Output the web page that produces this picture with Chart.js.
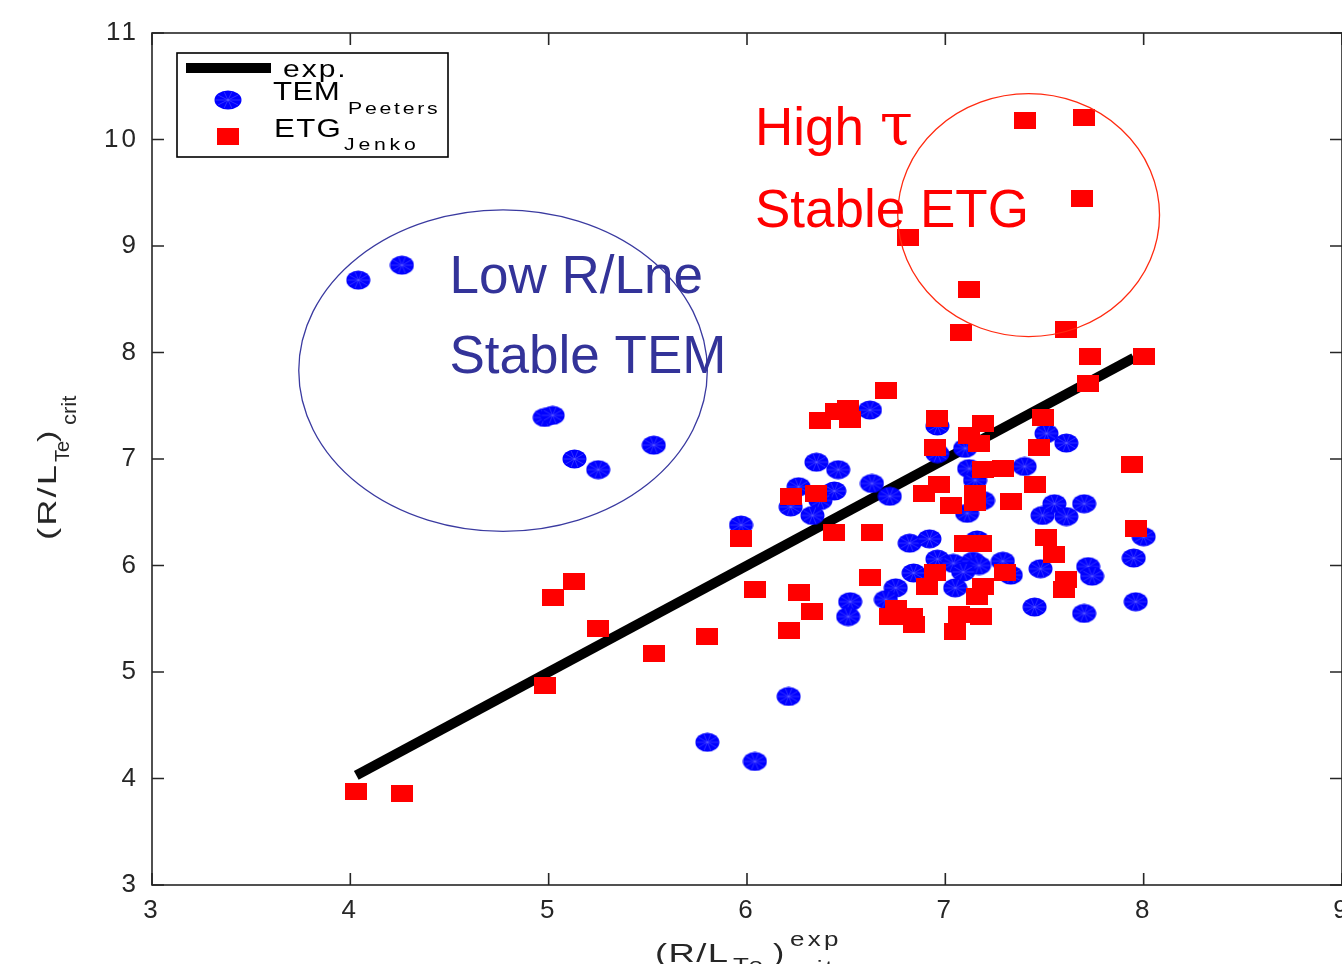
<!DOCTYPE html>
<html><head><meta charset="utf-8">
<script src="https://cdn.jsdelivr.net/npm/chart.js@4.4.0/dist/chart.umd.min.js"></script>
<style>
html,body{margin:0;padding:0;overflow:hidden;background:#fff;width:1342px;height:964px;}
#wrap{position:absolute;left:0;top:0;width:1362px;height:964px;}
</style></head><body>
<div id="wrap"><canvas id="c"></canvas></div>
<script>
// ---------- data ----------
const xTicks = [3, 4, 5, 6, 7, 8, 9];
const yTicks = [3, 4, 5, 6, 7, 8, 9, 10, 11];

const temX = [4.04,4.26,4.98,5.02,5.13,5.25,5.53,5.80,6.04,6.21,5.97,6.62,6.35,6.46,6.26,6.44,6.37,6.22,6.33,6.63,
              6.72,6.96,6.96,6.82,6.92,6.96,6.84,6.75,6.70,6.52,6.51,7.10,7.12,7.15,7.19,7.11,7.40,7.51,7.61,7.49,
              7.55,7.61,7.70,7.16,7.04,7.14,7.17,7.29,7.33,7.09,7.05,7.48,7.72,7.74,7.45,7.70,8.00,7.95,7.96];
const temY = [8.68,8.82,7.39,7.41,7.00,6.90,7.13,4.34,4.16,4.77,6.38,7.46,6.97,6.90,6.74,6.70,6.61,6.55,6.47,6.77,
              6.65,7.31,7.05,6.21,6.25,6.06,5.93,5.79,5.68,5.66,5.52,7.10,6.91,6.80,6.61,6.49,6.93,7.24,7.15,6.47,
              6.58,6.46,6.58,6.24,6.02,6.04,6.00,6.04,5.91,5.94,5.79,5.97,5.99,5.90,5.61,5.55,6.27,6.07,5.66];

const etgX = [4.03,4.26,4.98,5.02,5.13,5.25,5.53,5.80,5.97,6.04,6.21,6.26,6.33,6.22,6.35,6.44,6.63,6.62,6.37,6.45,
              6.51,6.52,6.70,6.81,6.96,6.95,6.89,6.97,7.03,7.08,7.12,7.12,7.19,7.17,7.19,7.29,7.15,7.15,7.33,7.45,
              7.49,7.47,7.51,7.55,7.61,7.60,7.40,7.70,7.69,7.61,7.73,8.00,7.72,7.94,7.96,7.10,7.18,6.95,6.91,7.30,
              7.19,7.16,7.07,7.18,7.05,6.75,6.72,6.83,6.84];
const etgY = [3.88,3.86,4.87,5.70,5.85,5.41,5.17,5.33,6.25,5.77,5.39,5.75,5.57,6.65,6.68,6.31,6.31,5.89,7.36,7.45,
              7.47,7.37,7.64,9.08,7.38,7.11,6.68,6.76,6.56,8.19,8.59,7.22,7.33,7.15,6.90,6.91,6.68,6.59,6.60,6.76,
              7.39,7.11,6.26,6.10,5.87,5.77,10.18,10.21,9.45,8.22,7.96,7.96,7.71,6.95,6.35,6.21,6.21,5.93,5.80,5.93,
              5.80,5.71,5.54,5.52,5.38,5.60,5.52,5.52,5.45];

const expX = [4.03, 7.95];
const expY = [4.03, 7.95];

const seriesNames = ['exp.', 'TEM', 'ETG'];
const seriesSubs  = ['', 'Peeters', 'Jenko'];

// annotation texts (data coordinates of baseline start)
const noteTexts = ['High ', 'Stable ETG', 'Low R/Lne', 'Stable TEM'];
const noteX = [6.04, 6.04, 4.50, 4.50];
const noteY = [9.95, 9.18, 8.56, 7.81];
const noteColors = ['#ff0000', '#ff0000', '#333399', '#333399'];
const tauText = '\u03C4';

// ellipses (data coordinates)
const ellCX = [4.77, 7.42];
const ellCY = [7.83, 9.29];
const ellRX = [1.03, 0.66];
const ellRY = [1.51, 1.14];
const ellColors = ['#3a3aa0', '#ff2a10'];

// ---------- styling helpers ----------
const FONT = "'Liberation Sans', Arial, Helvetica, sans-serif";
const AXC = '#262626';

function makeEllipse(w, h) {
  const c = document.createElement('canvas'); c.width = w; c.height = h;
  const g = c.getContext('2d');
  g.fillStyle = '#0000ff';
  g.beginPath(); g.ellipse(w/2, h/2, w/2 - 0.5, h/2 - 0.5, 0, 0, 2*Math.PI); g.fill();
  g.strokeStyle = 'rgba(120,120,255,0.8)'; g.lineWidth = 0.5;
  for (let k = 0; k < 10; k++) {
    const a = k * Math.PI / 5;
    g.beginPath(); g.moveTo(w/2, h/2);
    g.lineTo(w/2 + (w/2 - 1.5)*Math.cos(a), h/2 + (h/2 - 1.5)*Math.sin(a)); g.stroke();
  }
  return c;
}
function makeRect(w, h) {
  const c = document.createElement('canvas'); c.width = w; c.height = h;
  const g = c.getContext('2d');
  g.fillStyle = '#ff0000'; g.fillRect(0, 0, w, h);
  return c;
}
const blueMark = makeEllipse(25, 20);
const redMark = makeRect(22, 17);
const blueLeg = makeEllipse(28, 20);
const redLeg = makeRect(22, 17);

// draw text with horizontal stretch sx and letter spacing ls
function txt(ctx, s, x, y, size, sx, ls, color, family) {
  ctx.save();
  ctx.translate(x, y);
  ctx.scale(sx || 1, 1);
  ctx.font = size + 'px ' + (family || FONT);
  ctx.fillStyle = color || '#000';
  ctx.letterSpacing = (ls || 0) + 'px';
  ctx.textAlign = 'left'; ctx.textBaseline = 'alphabetic';
  ctx.fillText(s, 0, 0);
  const w = ctx.measureText(s).width * (sx || 1);
  ctx.restore();
  return w;
}

const decor = {
  id: 'decor',
  beforeDraw(chart) { chart.ctx.letterSpacing = '3px'; },
  beforeDatasetsDraw(chart) {
    const ctx = chart.ctx, a = chart.chartArea, xs = chart.scales.x, ys = chart.scales.y;
    ctx.save();
    ctx.letterSpacing = '0px';
    ctx.strokeStyle = AXC; ctx.lineWidth = 1.6;
    ctx.strokeRect(a.left, a.top, a.right - a.left, a.bottom - a.top);
    const tl = 12;
    ctx.beginPath();
    xTicks.forEach(v => {
      const p = xs.getPixelForValue(v);
      ctx.moveTo(p, a.bottom); ctx.lineTo(p, a.bottom - tl);
      ctx.moveTo(p, a.top); ctx.lineTo(p, a.top + tl);
    });
    yTicks.forEach(v => {
      const p = ys.getPixelForValue(v);
      ctx.moveTo(a.left, p); ctx.lineTo(a.left + tl, p);
      ctx.moveTo(a.right, p); ctx.lineTo(a.right - tl, p);
    });
    ctx.stroke();
    ctx.restore();
  },
  afterDatasetsDraw(chart) {
    const ctx = chart.ctx, xs = chart.scales.x, ys = chart.scales.y;
    // ellipses
    ctx.save();
    for (let i = 0; i < ellCX.length; i++) {
      const cx = xs.getPixelForValue(ellCX[i]), cy = ys.getPixelForValue(ellCY[i]);
      const rx = Math.abs(xs.getPixelForValue(ellCX[i] + ellRX[i]) - cx);
      const ry = Math.abs(ys.getPixelForValue(ellCY[i] + ellRY[i]) - cy);
      ctx.strokeStyle = ellColors[i]; ctx.lineWidth = 1.3;
      ctx.beginPath(); ctx.ellipse(cx, cy, rx, ry, 0, 0, 2*Math.PI); ctx.stroke();
    }
    ctx.restore();
    // annotation texts
    for (let i = 0; i < noteTexts.length; i++) {
      const x = xs.getPixelForValue(noteX[i]), y = ys.getPixelForValue(noteY[i]);
      const w = txt(ctx, noteTexts[i], x, y, 53, 1, 0, noteColors[i]);
      if (i === 0) txt(ctx, tauText, x + w + 1, y, 60, 1, 0, noteColors[i], "'DejaVu Serif', serif");
    }
    // legend
    ctx.save();
    ctx.letterSpacing = '0px';
    ctx.fillStyle = '#fff'; ctx.fillRect(177, 53, 271, 104);
    ctx.strokeStyle = '#000'; ctx.lineWidth = 1.6; ctx.strokeRect(177, 53, 271, 104);
    ctx.strokeStyle = '#000'; ctx.lineWidth = 10;
    ctx.beginPath(); ctx.moveTo(186, 68); ctx.lineTo(271, 68); ctx.stroke();
    ctx.drawImage(blueLeg, 228 - 14, 100 - 10);
    ctx.drawImage(redLeg, 228 - 11, 136 - 8.5);
    ctx.restore();
    txt(ctx, seriesNames[0], 283, 77, 24, 1.25, 1.6, '#000');
    txt(ctx, seriesNames[1], 273, 100, 26, 1.2, 0.4, '#000');
    txt(ctx, seriesSubs[1], 348, 114, 17, 1.25, 2.2, '#000');
    txt(ctx, seriesNames[2], 274, 137, 26, 1.2, 1.1, '#000');
    txt(ctx, seriesSubs[2], 344, 150, 17, 1.25, 3, '#000');
  },
  afterDraw(chart) {
    const ctx = chart.ctx;
    // x axis title
    txt(ctx, '(R/L', 655, 962, 26, 1.4, 1, AXC);
    txt(ctx, 'Te', 733, 972, 20, 1.3, 2, AXC);
    txt(ctx, ')', 773, 962, 26, 1.3, 0, AXC);
    txt(ctx, 'exp', 790, 946, 20, 1.3, 2.5, AXC);
    txt(ctx, 'crit', 790, 975, 20, 1.3, 2, AXC);
    // y axis title (rotated)
    const parts = [['(R/L', 540, 56, 26, 1.4, 1.5], ['Te', 462, 69, 20, 1.0, 0], [')', 442, 56, 26, 1.3, 0], ['crit', 425, 76, 20, 1.1, 0]];
    parts.forEach(p => {
      ctx.save();
      ctx.translate(p[2], p[1]); ctx.rotate(-Math.PI/2);
      txt(ctx, p[0], 0, 0, p[3], p[4], p[5], AXC);
      ctx.restore();
    });
  }
};

const pts = (xa, ya) => xa.map((v, i) => ({x: v, y: ya[i]}));

new Chart(document.getElementById('c'), {
  type: 'scatter',
  data: {
    datasets: [
      { label: 'ETG Jenko', data: pts(etgX, etgY), pointStyle: redMark, pointRadius: 9, pointHoverRadius: 9 },
      { label: 'TEM Peeters', data: pts(temX, temY), pointStyle: blueMark, pointRadius: 10, pointHoverRadius: 10 },
      { label: 'exp.', data: pts(expX, expY), showLine: true, borderColor: '#000', borderWidth: 10,
        pointRadius: 0, pointHoverRadius: 0, borderCapStyle: 'butt', fill: false }
    ]
  },
  options: {
    responsive: true, maintainAspectRatio: false, animation: false,
    layout: { padding: { left: 0, right: 20, top: 33, bottom: 0 } },
    plugins: { legend: { display: false }, tooltip: { enabled: false } },
    events: [],
    scales: {
      x: {
        type: 'linear', min: 3, max: 9,
        afterBuildTicks: s => { s.ticks = xTicks.map(v => ({ value: v })); },
        afterFit: s => { s.height = 79; },
        grid: { display: false, drawTicks: false },
        border: { display: false },
        ticks: { color: AXC, font: { family: FONT, size: 26 }, padding: 10, maxRotation: 0, autoSkip: false }
      },
      y: {
        type: 'linear', min: 3, max: 11,
        afterBuildTicks: s => { s.ticks = yTicks.map(v => ({ value: v })); },
        afterFit: s => { s.width = 152; },
        grid: { display: false, drawTicks: false },
        border: { display: false },
        ticks: { color: AXC, font: { family: FONT, size: 26 }, padding: 13, autoSkip: false }
      }
    }
  },
  plugins: [decor]
});
</script>
</body></html>
